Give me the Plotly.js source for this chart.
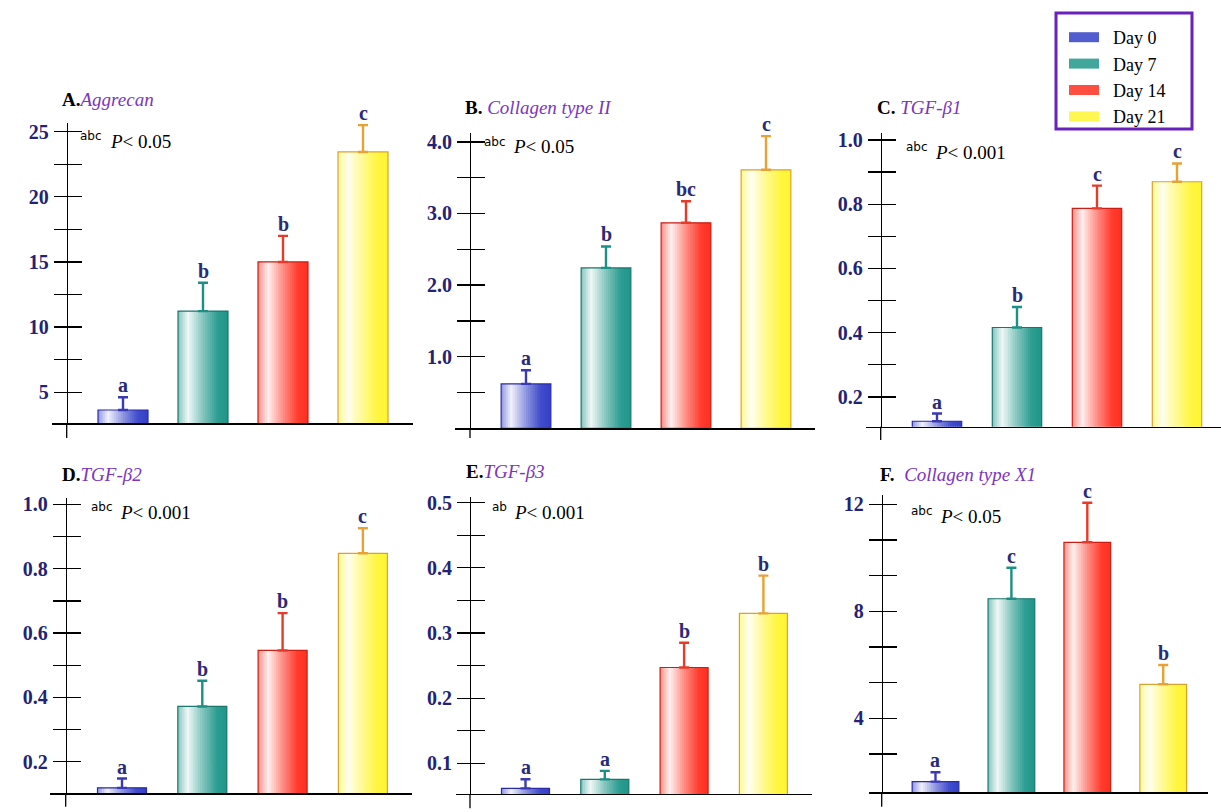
<!DOCTYPE html>
<html><head><meta charset="utf-8">
<script src="https://cdn.plot.ly/plotly-3.0.1.min.js"></script>
<style>html,body{margin:0;padding:0;background:#fff}</style>
</head><body><div id="chart" style="width:1221px;height:812px"></div>
<script>
// ---------------- data ----------------
const days = ['Day 0', 'Day 7', 'Day 14', 'Day 21'];

const aggrecanMean = [3.64, 11.23, 15.0, 23.44];
const aggrecanErr  = [0.98, 2.17, 2.0, 2.06];
const aggrecanSig  = ['a', 'b', 'b', 'c'];

const col2Mean = [0.62, 2.24, 2.87, 3.61];
const col2Err  = [0.19, 0.30, 0.30, 0.47];
const col2Sig  = ['a', 'b', 'bc', 'c'];

const tgfb1Mean = [0.124, 0.416, 0.787, 0.870];
const tgfb1Err  = [0.024, 0.064, 0.071, 0.057];
const tgfb1Sig  = ['a', 'b', 'c', 'c'];

const tgfb2Mean = [0.119, 0.372, 0.546, 0.848];
const tgfb2Err  = [0.029, 0.080, 0.116, 0.078];
const tgfb2Sig  = ['a', 'b', 'b', 'c'];

const tgfb3Mean = [0.0616, 0.0755, 0.247, 0.330];
const tgfb3Err  = [0.014, 0.013, 0.038, 0.058];
const tgfb3Sig  = ['a', 'a', 'b', 'b'];

const colXMean = [1.63, 8.47, 10.58, 5.27];
const colXErr  = [0.35, 1.16, 1.48, 0.72];
const colXSig  = ['a', 'c', 'c', 'b'];

// tick labels / axis ranges
const aTicks = [5, 10, 15, 20, 25];          const aTickText = ['5', '10', '15', '20', '25'];
const aMinor = [7.5, 12.5, 17.5, 22.5];       const aRange = [2.62, 25.64];
const bTicks = [1, 2, 3, 4];                  const bTickText = ['1.0', '2.0', '3.0', '4.0'];
const bMinor = [0.5, 1.5, 2.5, 3.5];          const bRange = [0, 4.12];
const cTicks = [0.2, 0.4, 0.6, 0.8, 1.0];     const cTickText = ['0.2', '0.4', '0.6', '0.8', '1.0'];
const cMinor = [0.3, 0.5, 0.7, 0.9];          const cRange = [0.107, 1.021];
const dTicks = [0.2, 0.4, 0.6, 0.8, 1.0];     const dTickText = ['0.2', '0.4', '0.6', '0.8', '1.0'];
const dMinor = [0.3, 0.5, 0.7, 0.9];          const dRange = [0.102, 1.019];
const eTicks = [0.1, 0.2, 0.3, 0.4, 0.5];     const eTickText = ['0.1', '0.2', '0.3', '0.4', '0.5'];
const eMinor = [0.15, 0.25, 0.35, 0.45];      const eRange = [0.053, 0.509];
const fTicks = [4, 8, 12];                    const fTickText = ['4', '8', '12'];
const fMinor = [2.667, 5.333, 6.667, 9.333, 10.667]; const fRange = [1.23, 12.35];

const geneNames = ['Aggrecan', 'Collagen type II', 'TGF-β1', 'TGF-β2', 'TGF-β3', 'Collagen type X1'];
const panelLetters = ['A.', 'B.', 'C.', 'D.', 'E.', 'F.'];
const sigGroups = ['abc', 'abc', 'abc', 'abc', 'ab', 'abc'];
const pTexts = ['0.05', '0.05', '0.001', '0.001', '0.001', '0.05'];

// ---------------- styles / layout geometry ----------------
const W = 1221, H = 812;
const baseColors = ['#3440c8', '#1f968a', '#ff3020', '#fff532'];
const edgeColors = ['#2a2aa8', '#1a756c', '#c81e14', '#d9a22e'];
const errColors  = ['#3a3ab4', '#1b9084', '#e83a28', '#e8a234'];
const purple = '#7b35c0';
const sigColor = '#2a2a78';
const tickColor = '#232375';
const HALF_TICK = 14;

const panelData = [
  {mean: aggrecanMean, err: aggrecanErr, sig: aggrecanSig, tv: aTicks, tt: aTickText, mv: aMinor, range: aRange},
  {mean: col2Mean, err: col2Err, sig: col2Sig, tv: bTicks, tt: bTickText, mv: bMinor, range: bRange},
  {mean: tgfb1Mean, err: tgfb1Err, sig: tgfb1Sig, tv: cTicks, tt: cTickText, mv: cMinor, range: cRange},
  {mean: tgfb2Mean, err: tgfb2Err, sig: tgfb2Sig, tv: dTicks, tt: dTickText, mv: dMinor, range: dRange},
  {mean: tgfb3Mean, err: tgfb3Err, sig: tgfb3Sig, tv: eTicks, tt: eTickText, mv: eMinor, range: eRange},
  {mean: colXMean, err: colXErr, sig: colXSig, tv: fTicks, tt: fTickText, mv: fMinor, range: fRange}
];

// pixel geometry of each panel
const geo = [
  {xL: 52,  xR: 413,    yAx: 66.7,  yTop: 123.3, yBase: 423.3, yBot: 438,   c0: 123,   sp: 80,   barPx: 50,
   tX: 60,  tY: 99,  abcR: 104, pX: 108, pY: 141, gap: ''},
  {xL: 455, xR: 815,    yAx: 470,   yTop: 133.3, yBase: 428.3, yBot: 438,   c0: 526,   sp: 80,   barPx: 49.7,
   tX: 463, tY: 108, abcR: 508, pX: 511, pY: 147, gap: ' '},
  {xL: 866, xR: 1221,   yAx: 880.7, yTop: 133.3, yBase: 426.7, yBot: 440,   c0: 937,   sp: 80,   barPx: 49.4,
   tX: 875, tY: 108, abcR: 930, pX: 933, pY: 152, gap: ' '},
  {xL: 50,  xR: 412.3,  yAx: 65.7,  yTop: 498.3, yBase: 793.3, yBot: 806.7, c0: 122,   sp: 80.3, barPx: 49,
   tX: 60,  tY: 474, abcR: 115, pX: 118, pY: 512, gap: ''},
  {xL: 456, xR: 811.7,  yAx: 470,   yTop: 496.7, yBase: 794,   yBot: 808.3, c0: 525.5, sp: 79.3, barPx: 48,
   tX: 464, tY: 471, abcR: 509, pX: 512, pY: 512, gap: ''},
  {xL: 869, xR: 1208.3, yAx: 881.7, yTop: 495,   yBase: 792.3, yBot: 806.7, c0: 935.5, sp: 75.9, barPx: 46.7,
   tX: 878, tY: 474, abcR: 935, pX: 938, pY: 516, gap: '  '}
];

function hexToRgb(h) {
  return [parseInt(h.slice(1, 3), 16), parseInt(h.slice(3, 5), 16), parseInt(h.slice(5, 7), 16)];
}
function mixWhite(h, w) {
  const c = hexToRgb(h).map(v => Math.round(v + (255 - v) * w));
  return 'rgb(' + c.join(',') + ')';
}
// horizontal light profile across a bar (white fraction)
const prof = [[0, 0.45], [0.2, 0.93], [0.5, 0.45], [0.8, 0.06], [1, 0]];
function whiteAt(t) {
  for (let i = 1; i < prof.length; i++) {
    if (t <= prof[i][0]) {
      const a = prof[i - 1], b = prof[i];
      return a[1] + (b[1] - a[1]) * (t - a[0]) / (b[0] - a[0]);
    }
  }
  return 0;
}

const N = 22;
const traces = [];
const annotations = [];
const shapes = [];
const layout = {
  width: W, height: H,
  margin: {l: 0, r: 0, t: 0, b: 0},
  paper_bgcolor: '#fff', plot_bgcolor: 'rgba(0,0,0,0)',
  barmode: 'overlay',
  showlegend: true,
  font: {family: 'Liberation Serif', color: '#000'},
  legend: {
    x: 1064 / W, y: 1 - 19 / H, xanchor: 'left', yanchor: 'top',
    borderwidth: 0, bgcolor: 'rgba(0,0,0,0)',
    font: {family: 'Liberation Serif', size: 18, color: '#000'},
    itemwidth: 30, tracegroupgap: 0
  }
};

panelData.forEach((pd, i) => {
  const g = geo[i];
  const n = i + 1;
  const xa = n === 1 ? 'x' : 'x' + n;
  const ya = n === 1 ? 'y' : 'y' + n;
  const yo = 'y' + (n + 6);
  const bw = g.barPx / g.sp;
  const sw = bw / N;

  // gradient slices of each bar
  for (let k = 0; k < N; k++) {
    const t = (k + 0.5) / N;
    const off = -bw / 2 + k * sw;
    const width = Math.min(sw * 1.5, bw - k * sw);
    traces.push({
      type: 'bar', x: days, y: pd.mean, xaxis: xa, yaxis: ya,
      offset: off, width: width,
      marker: {color: days.map((d, j) => mixWhite(baseColors[j], whiteAt(t))), line: {width: 0}},
      showlegend: false, hoverinfo: 'skip'
    });
  }
  // outlines + error bars
  days.forEach((d, j) => {
    traces.push({
      type: 'bar', x: [d], y: [pd.mean[j]], xaxis: xa, yaxis: ya,
      offset: -bw / 2, width: bw,
      marker: {color: 'rgba(0,0,0,0)', line: {color: edgeColors[j], width: 1.2}},
      error_y: {type: 'data', symmetric: false, array: [pd.err[j]], arrayminus: [0],
                color: errColors[j], thickness: 2.4, width: 5},
      showlegend: false, hoverinfo: 'skip'
    });
    annotations.push({
      xref: xa, yref: ya, x: d, y: pd.mean[j] + pd.err[j],
      text: '<b>' + pd.sig[j] + '</b>', showarrow: false,
      xanchor: 'center', yanchor: 'bottom', yshift: -1,
      font: {family: 'Liberation Serif', size: 20, color: sigColor}
    });
  });
  // dummy trace to carry the overlay axis (the axis line itself)
  traces.push({type: 'scatter', mode: 'markers', x: [null], y: [null], xaxis: xa, yaxis: yo,
               showlegend: false, hoverinfo: 'skip'});

  layout['xaxis' + (n === 1 ? '' : n)] = {
    domain: [g.xL / W, g.xR / W], anchor: ya,
    range: [(g.xL - g.c0) / g.sp, (g.xR - g.c0) / g.sp],
    showline: true, linecolor: '#000', linewidth: 1.3,
    ticks: '', showticklabels: false, showgrid: false, zeroline: false, fixedrange: true
  };
  // main y axis: placed at the left end of the ticks, ticks point inward across the axis line
  layout['yaxis' + (n === 1 ? '' : n)] = {
    domain: [1 - g.yBase / H, 1 - g.yTop / H],
    range: pd.range, anchor: 'free', position: (g.yAx - HALF_TICK) / W,
    showline: false,
    tickmode: 'array', tickvals: pd.tv, ticktext: pd.tt,
    ticks: 'inside', ticklen: 2 * HALF_TICK, tickwidth: 1.3, tickcolor: '#000',
    ticklabelstandoff: 4,
    tickfont: {family: 'Liberation Serif', size: 20, color: tickColor, weight: 'bold'},
    minor: {tickmode: 'array', tickvals: pd.mv, ticks: 'inside', ticklen: 2 * HALF_TICK, tickwidth: 1.3, tickcolor: '#000'},
    showgrid: false, zeroline: false, fixedrange: true
  };
  // overlay axis carrying the vertical axis line
  layout['yaxis' + (n + 6)] = {
    overlaying: ya, range: pd.range, anchor: 'free', position: g.yAx / W,
    showline: true, linecolor: '#000', linewidth: 1.3,
    ticks: '', showticklabels: false, showgrid: false, zeroline: false, fixedrange: true
  };

  // y-axis line continues a little below the x axis
  shapes.push({type: 'line', xref: 'paper', yref: 'paper',
    x0: g.yAx / W, x1: g.yAx / W, y0: 1 - g.yBase / H, y1: 1 - g.yBot / H,
    line: {color: '#000', width: 1.3}});

  // panel title
  annotations.push({
    xref: 'paper', yref: 'paper', x: g.tX / W, y: 1 - g.tY / H, xanchor: 'left', yanchor: 'middle',
    showarrow: false,
    text: '<b>' + panelLetters[i] + '</b>' + g.gap + '<i><span style="color:' + purple + '">' + geneNames[i] + '</span></i>',
    font: {family: 'Liberation Serif', size: 19, color: '#000'}
  });
  // significance note
  annotations.push({
    xref: 'paper', yref: 'paper', x: g.abcR / W, y: 1 - (g.pY - 5) / H, xanchor: 'right', yanchor: 'middle',
    showarrow: false, text: sigGroups[i],
    font: {family: 'DejaVu Sans', size: 12, color: '#000'}
  });
  annotations.push({
    xref: 'paper', yref: 'paper', x: g.pX / W, y: 1 - g.pY / H, xanchor: 'left', yanchor: 'middle',
    showarrow: false, text: '<i>P</i>< ' + pTexts[i],
    font: {family: 'Liberation Serif', size: 19, color: '#000'}
  });
});

// legend frame
shapes.push({type: 'rect', xref: 'paper', yref: 'paper',
  x0: 1056 / W, x1: 1192 / W, y0: 1 - 129 / H, y1: 1 - 13 / H,
  line: {color: '#6a20bb', width: 3}, fillcolor: 'rgba(0,0,0,0)'});

// legend entries
days.forEach((d, j) => {
  traces.push({
    type: 'scatter', mode: 'lines', x: [null], y: [null], xaxis: 'x', yaxis: 'y',
    name: '\u00a0\u00a0' + d, line: {color: mixWhite(baseColors[j], 0.15), width: 13}, hoverinfo: 'skip'
  });
});

layout.annotations = annotations;
layout.shapes = shapes;

Plotly.newPlot('chart', traces, layout, {displayModeBar: false, staticPlot: true});
</script>
</body></html>
